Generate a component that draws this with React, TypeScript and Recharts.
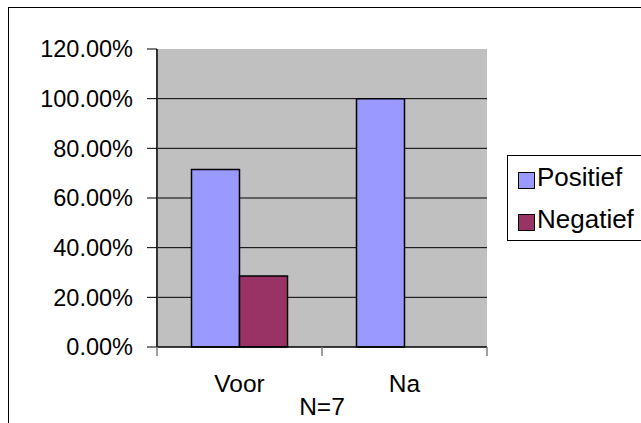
import { Bar, BarChart, CartesianGrid, XAxis, YAxis } from "recharts";

const categories = ["Voor", "Na"];
const positief = [0.7143, 1.0];
const negatief = [0.2857, 0];
const yTicks = [0, 0.2, 0.4, 0.6, 0.8, 1.0, 1.2];
const seriesNames = ["Positief", "Negatief"];
const seriesColors = ["#9999FF", "#993366"];
const xTitle = "N=7";

const FONT = "'Liberation Sans', Arial, sans-serif";
const AXIS_FS = 23.5;
const CAT_FS = 24.5;
const LEGEND_FS = 26;

const data = categories.map((name, i) => ({
  name,
  Positief: positief[i],
  Negatief: negatief[i],
}));

// Excel-style category axis: tick marks sit between categories, label centred.
function CategoryTick(props: any) {
  const { x, y, payload, index } = props;
  const half = payload && payload.offset ? payload.offset : 0;
  return (
    <g>
      <line x1={x - half} y1={y} x2={x - half} y2={y + 9} stroke="#808080" strokeWidth={1.5} />
      {index === categories.length - 1 && (
        <line x1={x + half} y1={y} x2={x + half} y2={y + 9} stroke="#808080" strokeWidth={1.5} />
      )}
      <text
        x={x}
        y={y + 45}
        textAnchor="middle"
        fill="#000"
        fontFamily={FONT}
        fontSize={CAT_FS}
      >
        {payload.value}
      </text>
    </g>
  );
}

export default function App() {
  return (
    <div
      style={{
        position: "fixed",
        left: 0,
        top: 0,
        width: 641,
        height: 423,
        overflow: "hidden",
        background: "#fff",
      }}
    >
      <div
        style={{
          position: "absolute",
          left: 8,
          top: 7,
          width: 700,
          height: 500,
          border: "1px solid #000",
        }}
      />
      <div style={{ position: "absolute", left: 0, top: 0 }}>
        <BarChart
          width={641}
          height={423}
          data={data}
          margin={{ top: 49, right: 154, bottom: 0, left: 0 }}
          barCategoryGap={34.5}
          barGap={0}
        >
          <CartesianGrid
            vertical={false}
            fill="#C0C0C0"
            stroke="#000"
            strokeWidth={1}
            horizontalValues={yTicks.slice(1, -1)}
          />
          <XAxis
            dataKey="name"
            height={76}
            axisLine={{ stroke: "#000", strokeWidth: 1.5 }}
            tickLine={false}
            tickSize={0}
            tickMargin={0}
            tick={<CategoryTick />}
            interval={0}
            label={{
              value: xTitle,
              position: "insideBottom",
              offset: 8,
              fill: "#000",
              fontSize: CAT_FS,
              fontFamily: FONT,
            }}
          />
          <XAxis
            xAxisId="top"
            orientation="top"
            dataKey="name"
            height={0}
            tick={false}
            tickLine={false}
            axisLine={{ stroke: "#808080", strokeWidth: 2 }}
          />
          <YAxis
            width={157}
            domain={[0, 1.2]}
            ticks={yTicks}
            interval={0}
            tickSize={10}
            tickMargin={14}
            tickLine={{ stroke: "#000" }}
            axisLine={{ stroke: "#333", strokeWidth: 2 }}
            tickFormatter={(v: number) => `${(v * 100).toFixed(2)}%`}
            tick={{ fill: "#000", fontSize: AXIS_FS, fontFamily: FONT }}
          />
          <YAxis
            yAxisId="right"
            orientation="right"
            width={0}
            domain={[0, 1.2]}
            tick={false}
            tickLine={false}
            axisLine={{ stroke: "#808080", strokeWidth: 2 }}
          />
          {seriesNames.map((s, i) => (
            <Bar
              key={s}
              dataKey={s}
              fill={seriesColors[i]}
              stroke="#000"
              strokeWidth={1.5}
              isAnimationActive={false}
            />
          ))}
        </BarChart>
      </div>
      <div
        style={{
          position: "absolute",
          left: 507,
          top: 155,
          width: 150,
          height: 86,
          border: "1px solid #000",
          background: "#fff",
          fontFamily: FONT,
          fontSize: LEGEND_FS,
          boxSizing: "border-box",
        }}
      >
        {seriesNames.map((s, i) => (
          <div
            key={s}
            style={{ display: "flex", alignItems: "center", height: 42, paddingLeft: 10 }}
          >
            <span
              style={{
                display: "inline-block",
                width: 15,
                height: 15,
                background: seriesColors[i],
                border: "1px solid #000",
                marginRight: 2,
                marginTop: 6,
              }}
            />
            <span>{s}</span>
          </div>
        ))}
      </div>
    </div>
  );
}
